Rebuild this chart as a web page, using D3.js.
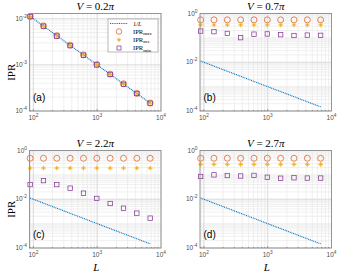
<html>
<head>
<script src="https://cdnjs.cloudflare.com/ajax/libs/d3/7.8.5/d3.min.js"></script>
<style>
  body { margin: 0; background: #fff; }
  text { fill: #262626; }
</style>
</head>
<body>
<div id="chart"></div>
<script>
// system sizes (Fibonacci lengths)
var L = [89, 144, 233, 377, 610, 987, 1597, 2584, 4181, 6765];
var invL = [0.01124, 0.00694, 0.00429, 0.00265, 0.00164, 0.00101, 0.000626, 0.000387, 0.000239, 0.000148];

// (a) V = 0.2pi
var maxA = [0.0113, 0.0070, 0.0043, 0.00267, 0.00165, 0.00102, 0.00063, 0.00039, 0.00024, 0.000149];
var aveA = [0.0112, 0.0069, 0.0043, 0.00265, 0.00164, 0.00101, 0.00063, 0.00039, 0.00024, 0.000148];
var minA = [0.0111, 0.0069, 0.0042, 0.00262, 0.00162, 0.00100, 0.00062, 0.00038, 0.00024, 0.000147];
// (b) V = 0.7pi
var maxB = [0.55, 0.55, 0.55, 0.55, 0.55, 0.55, 0.55, 0.55, 0.55, 0.55];
var aveB = [0.34, 0.34, 0.34, 0.34, 0.34, 0.34, 0.34, 0.34, 0.34, 0.34];
var minB = [0.19, 0.18, 0.152, 0.102, 0.142, 0.145, 0.135, 0.125, 0.13, 0.127];
// (c) V = 2.2pi
var maxC = [0.48, 0.48, 0.48, 0.48, 0.48, 0.48, 0.48, 0.48, 0.48, 0.48];
var aveC = [0.19, 0.19, 0.19, 0.19, 0.19, 0.19, 0.19, 0.19, 0.19, 0.19];
var minC = [0.040, 0.058, 0.040, 0.0285, 0.0178, 0.0108, 0.0067, 0.0043, 0.0027, 0.00168];
// (d) V = 2.7pi
var maxD = [0.48, 0.48, 0.48, 0.48, 0.48, 0.48, 0.48, 0.48, 0.48, 0.48];
var aveD = [0.27, 0.27, 0.27, 0.27, 0.27, 0.27, 0.27, 0.27, 0.27, 0.27];
var minD = [0.086, 0.1, 0.094, 0.09, 0.095, 0.08, 0.073, 0.076, 0.074, 0.074];

var titles = ["0.2", "0.7", "2.2", "2.7"];
var letters = ["(a)", "(b)", "(c)", "(d)"];
var xTicks = [1e2, 1e3, 1e4];
var yTicksA = [1e-4, 1e-3, 1e-2];
var yTicksBCD = [1e-4, 1e-2, 1];

var colLine = "#0072BD", colMax = "#D95319", colAve = "#EDB120", colMin = "#7E2F8E";

var svg = d3.select("#chart").append("svg").attr("width", 338).attr("height", 274);

var boxes = [
	{x0: 29.5, x1: 161, y0: 13.5, y1: 111},
	{x0: 200, x1: 331.5, y0: 13.5, y1: 111},
	{x0: 29.5, x1: 161, y0: 150.5, y1: 248},
	{x0: 200, x1: 331.5, y0: 150.5, y1: 248}
];
var series = [[maxA, aveA, minA], [maxB, aveB, minB], [maxC, aveC, minC], [maxD, aveD, minD]];

function starPath(r) {
	var d = "";
	for (var k = 0; k < 4; k++) {
		var a = k * Math.PI / 4, s = (k % 2 ? 0.75 : 1) * r;
		d += "M" + (-s * Math.cos(a)) + "," + (-s * Math.sin(a)) + "L" + (s * Math.cos(a)) + "," + (s * Math.sin(a));
	}
	return d;
}

function tickLabel(g, x, y, exp, anchor) {
	var t = g.append("text").attr("x", x).attr("y", y).attr("text-anchor", anchor)
		.style("font-family", "Liberation Sans, Arial").style("font-size", "6.5px").style("fill", "#4d4d4d");
	t.append("tspan").text("10");
	t.append("tspan").attr("dy", -3).style("font-size", "4.8px").text(exp);
}

boxes.forEach(function(b, i) {
	var g = svg.append("g");
	var x = d3.scaleLog().domain([87, 1e4]).range([b.x0, b.x1]);
	var y = d3.scaleLog().domain(i == 0 ? [1e-4, 0.013] : [1e-4, 1]).range([b.y1, b.y0]);
	var yTicks = i == 0 ? yTicksA : yTicksBCD;

	g.append("rect").attr("x", b.x0).attr("y", b.y0).attr("width", b.x1 - b.x0).attr("height", b.y1 - b.y0).attr("fill", "#fff");

	// minor + major grid
	var xMinor = [], yMinor = [];
	for (var e = 1; e < 4; e++) for (var m = 1; m < 10; m++) { var v = m * Math.pow(10, e); if (v >= 87 && v <= 1e4) xMinor.push(v); }
	for (var e2 = -4; e2 < 0; e2++) for (var m2 = 1; m2 < 10; m2++) { var w = m2 * Math.pow(10, e2); if (w <= y.domain()[1]) yMinor.push(w); }
	g.selectAll(".xm").data(xMinor).enter().append("line")
		.attr("x1", d => x(d)).attr("x2", d => x(d)).attr("y1", b.y0).attr("y2", b.y1)
		.attr("stroke", "#e6e6e6").attr("stroke-width", 0.6);
	g.selectAll(".ym").data(yMinor).enter().append("line")
		.attr("y1", d => y(d)).attr("y2", d => y(d)).attr("x1", b.x0).attr("x2", b.x1)
		.attr("stroke", "#e6e6e6").attr("stroke-width", 0.6);
	g.selectAll(".xg").data(xTicks).enter().append("line")
		.attr("x1", d => x(d)).attr("x2", d => x(d)).attr("y1", b.y0).attr("y2", b.y1)
		.attr("stroke", "#d6d6d6").attr("stroke-width", 0.7);
	g.selectAll(".yg").data(yTicks).enter().append("line")
		.attr("y1", d => y(d)).attr("y2", d => y(d)).attr("x1", b.x0).attr("x2", b.x1)
		.attr("stroke", "#d6d6d6").attr("stroke-width", 0.7);

	// 1/L line
	var line = d3.line().x((d, k) => x(L[k])).y(d => y(d));
	g.append("path").datum(invL).attr("d", line).attr("fill", "none")
		.attr("stroke", colLine).attr("stroke-width", 1.1).attr("stroke-dasharray", "1,0.8");

	var s = series[i];
	g.selectAll(".cmax").data(s[0]).enter().append("circle")
		.attr("cx", (d, k) => x(L[k])).attr("cy", d => y(d)).attr("r", 3)
		.attr("fill", "none").attr("stroke", colMax).attr("stroke-width", 0.7);
	g.selectAll(".cave").data(s[1]).enter().append("path")
		.attr("transform", (d, k) => "translate(" + x(L[k]) + "," + y(d) + ")")
		.attr("d", starPath(2.4)).attr("stroke", colAve).attr("stroke-width", 0.9);
	g.selectAll(".cmin").data(s[2]).enter().append("rect")
		.attr("x", (d, k) => x(L[k]) - 2.2).attr("y", d => y(d) - 2.2).attr("width", 4.4).attr("height", 4.4)
		.attr("fill", "none").attr("stroke", colMin).attr("stroke-width", 0.7);

	// box and ticks
	g.append("rect").attr("x", b.x0).attr("y", b.y0).attr("width", b.x1 - b.x0).attr("height", b.y1 - b.y0)
		.attr("fill", "none").attr("stroke", "#8c8c8c").attr("stroke-width", 0.9);
	g.selectAll(".xt").data(xMinor).enter().append("line")
		.attr("x1", d => x(d)).attr("x2", d => x(d)).attr("y1", b.y1).attr("y2", d => b.y1 - (xTicks.indexOf(d) >= 0 ? 2 : 1))
		.attr("stroke", "#555").attr("stroke-width", 0.5);

	xTicks.forEach(function(t) { tickLabel(g, x(t), b.y1 + 9, Math.round(Math.log10(t)), "middle"); });
	yTicks.forEach(function(t) { tickLabel(g, b.x0 - 2.5, y(t) + 2, Math.round(Math.log10(t)), "end"); });

	// title
	var tt = g.append("text").attr("x", (b.x0 + b.x1) / 2).attr("y", b.y0 - 4).attr("text-anchor", "middle")
		.style("font-family", "Liberation Serif, DejaVu Serif").style("font-size", "11px").style("fill", "#000");
	tt.append("tspan").style("font-style", "italic").text("V");
	tt.append("tspan").text(" = " + titles[i]);
	tt.append("tspan").style("font-style", "italic").text("π");

	g.append("text").attr("x", b.x0 + 3.5).attr("y", b.y1 - 10).text(letters[i])
		.style("font-family", "Liberation Sans, Arial").style("font-size", "10px").style("fill", "#000");
});

// axis labels
[boxes[0], boxes[2]].forEach(function(b) {
	svg.append("text").attr("transform", "translate(15," + ((b.y0 + b.y1) / 2 + 10) + ") rotate(-90)")
		.attr("text-anchor", "middle").text("IPR")
		.style("font-family", "Liberation Serif, DejaVu Serif").style("font-size", "11px").style("fill", "#000");
});
[boxes[2], boxes[3]].forEach(function(b) {
	svg.append("text").attr("x", (b.x0 + b.x1) / 2 + 1).attr("y", 271).attr("text-anchor", "middle").text("L")
		.style("font-family", "Liberation Serif, DejaVu Serif").style("font-size", "11px").style("font-style", "italic").style("fill", "#000");
});

// legend in panel (a)
var lg = svg.append("g");
lg.append("rect").attr("x", 108).attr("y", 19).attr("width", 50).attr("height", 33)
	.attr("fill", "#fff").attr("stroke", "#8c8c8c").attr("stroke-width", 0.6);
var rows = [23.5, 31.5, 39.8, 48];
lg.append("line").attr("x1", 110).attr("x2", 128).attr("y1", rows[0]).attr("y2", rows[0])
	.attr("stroke", colLine).attr("stroke-width", 1.1).attr("stroke-dasharray", "1,0.8");
lg.append("circle").attr("cx", 119).attr("cy", rows[1]).attr("r", 2.8).attr("fill", "none").attr("stroke", colMax).attr("stroke-width", 0.7);
lg.append("path").attr("transform", "translate(119," + rows[2] + ")").attr("d", starPath(2.2)).attr("stroke", colAve).attr("stroke-width", 0.9);
lg.append("rect").attr("x", 117).attr("y", rows[3] - 2).attr("width", 4).attr("height", 4).attr("fill", "none").attr("stroke", colMin).attr("stroke-width", 0.7);
var t0 = lg.append("text").attr("x", 133).attr("y", rows[0] + 2).style("font-family", "Liberation Serif, DejaVu Serif").style("font-size", "6.5px").style("fill", "#000");
t0.append("tspan").text("1/");
t0.append("tspan").style("font-style", "italic").text("L");
["max", "ave", "min"].forEach(function(sub, k) {
	var t = lg.append("text").attr("x", 133).attr("y", rows[k + 1] + 2).style("font-family", "Liberation Serif, DejaVu Serif").style("font-size", "6.5px").style("fill", "#000");
	t.append("tspan").text("IPR");
	t.append("tspan").attr("dy", 1.5).style("font-size", "5px").text(sub);
});
</script>
</body>
</html>
